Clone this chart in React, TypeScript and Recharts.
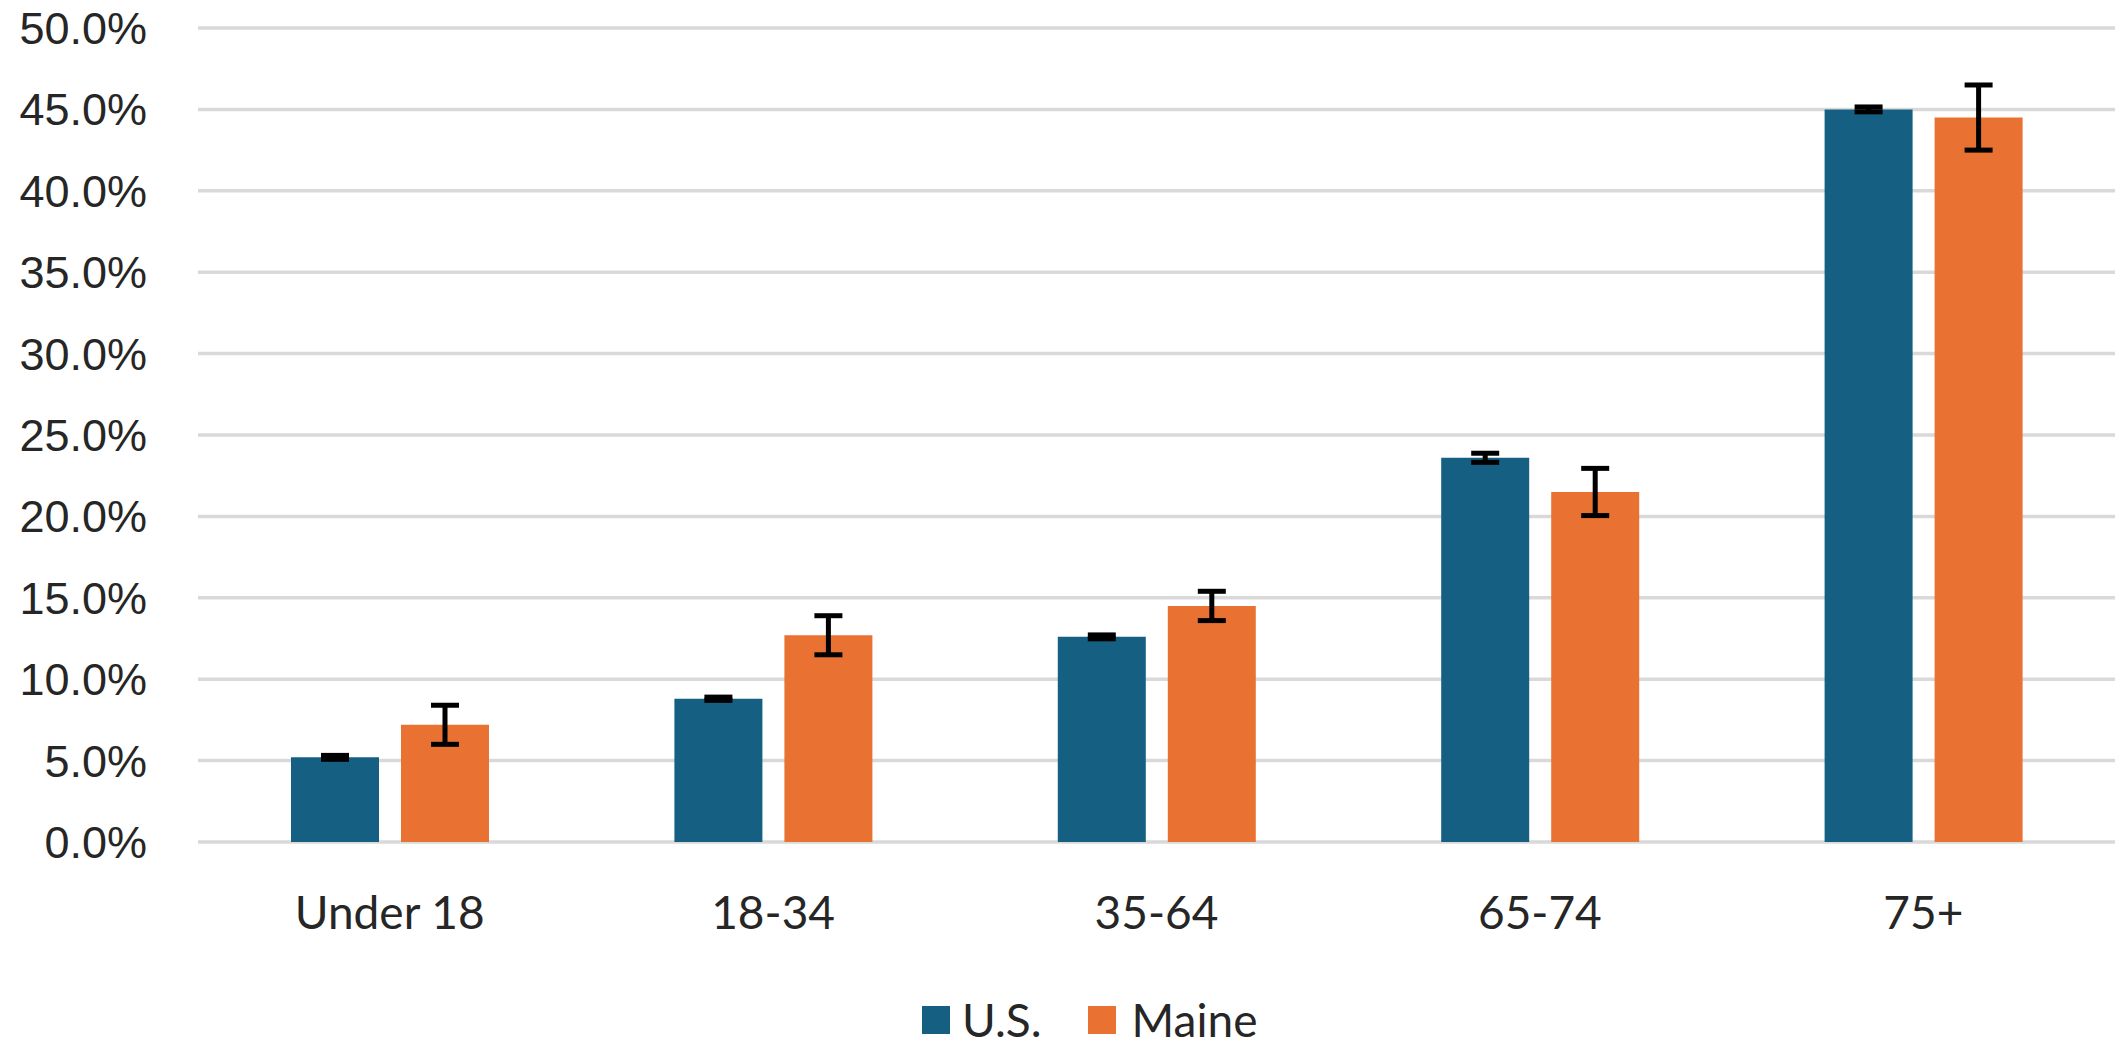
import React from 'react';
import { BarChart, Bar, XAxis, YAxis, CartesianGrid, Legend, ErrorBar } from 'recharts';

// values in percent
const categories = ['Under 18', '18-34', '35-64', '65-74', '75+'];
const usValues = [5.2, 8.8, 12.6, 23.6, 45.0];
const usErrors = [0.12, 0.1, 0.12, 0.28, 0.15];
const maineValues = [7.2, 12.7, 14.5, 21.5, 44.5];
const maineErrors = [1.2, 1.2, 0.9, 1.45, 2.0];
const yTicks = [0, 5, 10, 15, 20, 25, 30, 35, 40, 45, 50];

const US_COLOR = '#156082';
const MAINE_COLOR = '#E97132';

const data = categories.map((name, i) => ({
    name,
    us: usValues[i],
    usErr: usErrors[i],
    maine: maineValues[i],
    maineErr: maineErrors[i],
}));

if (typeof document !== 'undefined') {
    document.body.style.margin = '0';
}

const LegendContent = () => (
    <div
        style={{
            height: 50,
            display: 'flex',
            alignItems: 'center',
            paddingLeft: 922,
            fontFamily: 'Lato, sans-serif',
            fontSize: 46,
            lineHeight: '50px',
            color: '#262626',
        }}
    >
        <span style={{ width: 28, height: 28, background: US_COLOR, display: 'inline-block' }} />
        <span style={{ marginLeft: 12 }}>U.S.</span>
        <span style={{ width: 28, height: 28, background: MAINE_COLOR, display: 'inline-block', marginLeft: 46 }} />
        <span style={{ marginLeft: 16 }}>Maine</span>
    </div>
);

const App = () => {
    return (
        <div style={{ width: 2118, height: 1045 }}>
            <BarChart
                width={2118}
                height={1045}
                data={data}
                margin={{ top: 28, right: 3, left: 0, bottom: 0 }}
                barGap={22}
            >
                <CartesianGrid vertical={false} stroke="#D9D9D9" strokeWidth={3.5} />
                <XAxis
                    dataKey="name"
                    axisLine={false}
                    tickLine={false}
                    height={153}
                    tickMargin={48}
                    tick={{ fontFamily: 'Lato, sans-serif', fontSize: 46, fill: '#262626' }}
                />
                <YAxis
                    domain={[0, 50]}
                    ticks={yTicks}
                    width={198}
                    axisLine={false}
                    tickLine={false}
                    tickMargin={45}
                    tickFormatter={(v: number) => `${v.toFixed(1)}%`}
                    tick={{ fontFamily: '"Liberation Sans", Arial, sans-serif', fontSize: 45, fill: '#262626' }}
                    interval={0}
                />
                <Legend verticalAlign="bottom" content={LegendContent} />
                <Bar dataKey="us" name="U.S." fill={US_COLOR} barSize={88} isAnimationActive={false}>
                    <ErrorBar dataKey="usErr" width={14} stroke="#000" strokeWidth={5} direction="y" isAnimationActive={false} />
                </Bar>
                <Bar dataKey="maine" name="Maine" fill={MAINE_COLOR} barSize={88} isAnimationActive={false}>
                    <ErrorBar dataKey="maineErr" width={14} stroke="#000" strokeWidth={5} direction="y" isAnimationActive={false} />
                </Bar>
            </BarChart>
        </div>
    );
};

export default App;
